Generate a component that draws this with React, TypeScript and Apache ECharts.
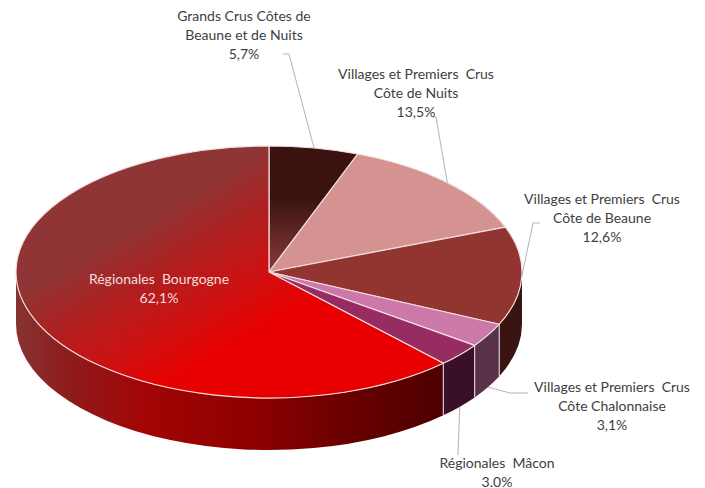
import React, { useEffect, useRef } from "react";
import * as echarts from "echarts";

const sliceNames = [
  "Grands Crus Côtes de\nBeaune et de Nuits",
  "Villages et Premiers  Crus\nCôte de Nuits",
  "Villages et Premiers  Crus\nCôte de Beaune",
  "Villages et Premiers  Crus\nCôte Chalonnaise",
  "Régionales  Mâcon",
  "Régionales  Bourgogne",
];
const sliceValues = [5.7, 13.5, 12.6, 3.1, 3.0, 62.1];
const valueLabels = ["5,7%", "13,5%", "12,6%", "3,1%", "3.0%", "62,1%"];

// Layout and style constants (not data)
const W = 705, H = 488;
const CX = 269, CY = 272, RX = 253, RY = 126, DEPTH = 52;
const FONT = "Lato, 'Open Sans', sans-serif";
const EDGE = "#f1dede";
const LINE_STEP = 19;

const linear = (x: number, y: number, x2: number, y2: number, colorStops: any[]) => ({
  type: "linear", x, y, x2, y2, global: true, colorStops,
});

const topFills: any[] = [
  linear(0, 198, 0, 272, [
    { offset: 0, color: "#3a1311" },
    { offset: 1, color: "#8a3a3a" },
  ]),
  "#d49391",
  "#923531",
  "#cc78a8",
  "#962c62",
  linear(160, 170, 260, 340, [
    { offset: 0, color: "#8f3535" },
    { offset: 0.18, color: "#8f3535" },
    { offset: 0.45, color: "#b01f1f" },
    { offset: 0.7, color: "#cc1212" },
    { offset: 0.95, color: "#e80000" },
    { offset: 1, color: "#e80000" },
  ]),
];
const wallFills: any[] = [
  "#3a1311",
  "#5a2a2a",
  "#3a1410",
  "#59324a",
  "#3a1028",
  linear(16, 0, 443, 0, [
    { offset: 0, color: "#873232" },
    { offset: 0.12, color: "#8d1c1c" },
    { offset: 0.3, color: "#a30505" },
    { offset: 0.55, color: "#8f0000" },
    { offset: 0.78, color: "#690000" },
    { offset: 1, color: "#4e0000" },
  ]),
];
const labelLayout = [
  { x: 244, y: 34, leader: [[289, 54], [283, 54]], wall: false, fill: "#404040" },
  { x: 416, y: 92, leader: [[436, 117], [432, 117]], wall: false, fill: "#404040" },
  { x: 602, y: 217, leader: [[533, 223], [540, 223]], wall: false, fill: "#404040" },
  { x: 612, y: 405, leader: [[510, 393], [528, 393]], wall: true, fill: "#404040" },
  { x: 497, y: 471.5, leader: [[458, 455]], wall: true, fill: "#404040" },
  { x: 159, y: 288, leader: null, wall: false, fill: "#f3dede" },
];

const total = sliceValues.reduce((a, b) => a + b, 0);
const point = (deg: number, dy = 0): [number, number] => {
  const r = (deg * Math.PI) / 180;
  return [CX + RX * Math.sin(r), CY - RY * Math.cos(r) + dy];
};

function renderItem(params: any, api: any) {
  const i = params.dataIndex;
  let before = 0;
  for (let k = 0; k < i; k++) before += sliceValues[k];
  const value = api.value(0);
  const a1 = (before / total) * 360;
  const a2 = ((before + value) / total) * 360;
  const children: any[] = [];

  // Outer wall (only the part of the rim that faces the viewer)
  const w1 = Math.max(a1, 90);
  const w2 = Math.min(a2, 270);
  if (w2 > w1) {
    const [x1, y1] = point(w1);
    const [x2, y2] = point(w2);
    const large = w2 - w1 > 180 ? 1 : 0;
    children.push({
      type: "path",
      shape: {
        pathData: `M${x1} ${y1}A${RX} ${RY} 0 ${large} 1 ${x2} ${y2}L${x2} ${y2 + DEPTH}A${RX} ${RY} 0 ${large} 0 ${x1} ${y1 + DEPTH}Z`,
      },
      style: { fill: wallFills[i], stroke: "none" },
    });
    if (a1 > 90 && a1 < 270) {
      children.push({
        type: "line",
        shape: { x1, y1, x2: x1, y2: y1 + DEPTH },
        style: { stroke: "#d9cad2", lineWidth: 1.2 },
      });
    }
  }

  // Top face
  const [sx, sy] = point(a1);
  const [ex, ey] = point(a2);
  children.push({
    type: "path",
    shape: {
      pathData: `M${CX} ${CY}L${sx} ${sy}A${RX} ${RY} 0 ${a2 - a1 > 180 ? 1 : 0} 1 ${ex} ${ey}Z`,
    },
    style: { fill: topFills[i], stroke: EDGE, lineWidth: 1.2, lineJoin: "round" },
  });

  // Leader line and label, one text per line
  const layout = labelLayout[i];
  const mid = (a1 + a2) / 2;
  if (layout.leader) {
    children.push({
      type: "polyline",
      shape: { points: [point(mid, layout.wall ? DEPTH : 0), ...layout.leader] },
      style: { fill: "none", stroke: "#b4b4b4", lineWidth: 1 },
    });
  }
  const lines = `${sliceNames[i]}\n${valueLabels[i]}`.split("\n");
  lines.forEach((line, k) => {
    children.push({
      type: "text",
      style: {
        x: layout.x,
        y: layout.y + (k - (lines.length - 1) / 2) * LINE_STEP,
        text: line,
        fill: layout.fill,
        fontFamily: FONT,
        fontSize: 14,
        lineHeight: 13,
        align: "center",
        verticalAlign: "middle",
      },
    });
  });
  return { type: "group", children };
}

export default function App() {
  const ref = useRef<HTMLDivElement>(null);
  useEffect(() => {
    const chart = echarts.init(ref.current!, undefined, { renderer: "svg", width: W, height: H });
    chart.setOption({
      animation: false,
      backgroundColor: "#ffffff",
      series: [
        {
          type: "custom",
          coordinateSystem: "none",
          renderItem,
          silent: true,
          clip: false,
          data: sliceValues.map((v, i) => ({ name: sliceNames[i], value: [v] })),
          encode: { value: 0 },
        },
      ],
    });
    return () => chart.dispose();
  }, []);
  return <div ref={ref} style={{ position: "absolute", left: 0, top: 0, width: W, height: H }} />;
}
